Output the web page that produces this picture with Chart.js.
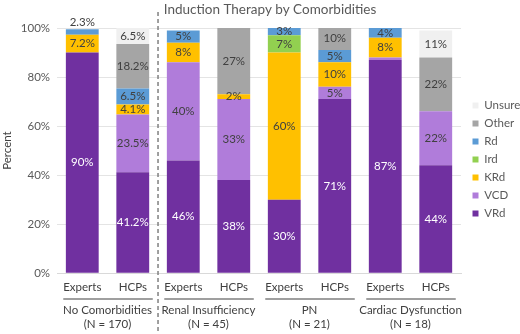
<!DOCTYPE html>
<html>
<head>
<meta charset="utf-8">
<script src="https://cdn.jsdelivr.net/npm/chart.js@4.4.0/dist/chart.umd.min.js"></script>
<style>
  html, body { margin: 0; padding: 0; background: #fff; }
  #wrap { width: 520px; height: 334px; position: relative; }
</style>
</head>
<body>
<div id="wrap"><canvas id="grafica"></canvas></div>
<script>
// categorias
var barras = ['Experts', 'HCPs', 'Experts', 'HCPs', 'Experts', 'HCPs', 'Experts', 'HCPs'];
var grupos = ['No Comorbidities', 'Renal Insufficiency', 'PN', 'Cardiac Dysfunction'];
var grupos_n = ['(N = 170)', '(N = 45)', '(N = 21)', '(N = 18)'];
var titulo = 'Induction Therapy by Comorbidities';
var ticks_y = [0, 20, 40, 60, 80, 100];

// series (%)
var VRd    = [90, 41.2, 46, 38, 30, 71, 87, 44];
var VCD    = [0, 23.5, 40, 33, 0, 5, 1, 22];
var KRd    = [7.2, 4.1, 8, 2, 60, 10, 8, 0];
var Ird    = [0, 0, 0, 0, 7, 0, 0, 0];
var Rd     = [2.3, 6.5, 5, 0, 3, 5, 4, 0];
var Other  = [0, 18.2, 0, 27, 0, 10, 0, 22];
var Unsure = [0, 6.5, 0, 0, 0, 0, 0, 11];

var FONT = 'Lato';
var FS = 11.5;

var chartdata = {
  labels: barras,
  datasets: [
    { label: 'VRd', data: VRd, backgroundColor: '#7030A0' },
    { label: 'VCD', data: VCD, backgroundColor: '#B07CDA' },
    { label: 'KRd', data: KRd, backgroundColor: '#FFC000' },
    { label: 'Ird', data: Ird, backgroundColor: '#92D050' },
    { label: 'Rd', data: Rd, backgroundColor: '#5B9BD5' },
    { label: 'Other', data: Other, backgroundColor: '#A5A5A5' },
    { label: 'Unsure', data: Unsure, backgroundColor: '#F0F0F0' }
  ]
};
chartdata.datasets.forEach(function(ds){
  ds.barPercentage = 0.65;
  ds.categoryPercentage = 1.0;
  ds.borderWidth = 0;
});

// etiquetas, titulo, separador y grupos
var extras = {
  id: 'extras',
  afterLayout: function(chart){
    // mover la leyenda un poco
    chart.legend.left += 5;
    chart.legend.right += 5;
    chart.legend.top -= 5;
    chart.legend.bottom -= 5;
  },
  afterDatasetsDraw: function(chart){
    var ctx = chart.ctx;
    ctx.save();
    ctx.font = FS + 'px ' + FONT;
    ctx.textAlign = 'center';
    ctx.textBaseline = 'middle';
    var n = chart.data.labels.length;
    for (var j = 0; j < n; j++) {
      // ultimo segmento no vacio
      var top = -1;
      chart.data.datasets.forEach(function(ds, i){ if (ds.data[j] > 0) top = i; });
      chart.data.datasets.forEach(function(ds, i){
        var v = ds.data[j];
        if (!(v >= 2)) return;
        var el = chart.getDatasetMeta(i).data[j];
        var h = Math.abs(el.base - el.y);
        var y = (el.y + el.base) / 2;
        if (i === top && h < 6) y = el.y - 7;
        ctx.fillStyle = i === 0 ? '#ffffff' : '#404040';
        ctx.fillText(v + '%', el.x, y);
      });
    }
    ctx.restore();
  },
  afterDraw: function(chart){
    var ctx = chart.ctx;
    var x = chart.scales.x;
    ctx.save();
    // titulo
    ctx.font = '13.5px ' + FONT;
    ctx.fillStyle = '#595959';
    ctx.textAlign = 'center';
    ctx.textBaseline = 'middle';
    ctx.fillText(titulo, 270, 10);
    // linea punteada
    var xs = (x.getPixelForValue(1) + x.getPixelForValue(2)) / 2;
    ctx.strokeStyle = '#808080';
    ctx.lineWidth = 1.5;
    ctx.setLineDash([4, 3]);
    ctx.beginPath();
    ctx.moveTo(xs, 12);
    ctx.lineTo(xs, 334);
    ctx.stroke();
    ctx.setLineDash([]);
    // grupos
    ctx.font = FS + 'px ' + FONT;
    ctx.fillStyle = '#404040';
    for (var g = 0; g < grupos.length; g++) {
      var a = x.getPixelForValue(g * 2);
      var b = x.getPixelForValue(g * 2 + 1);
      ctx.strokeStyle = '#7f7f7f';
      ctx.lineWidth = 1.5;
      ctx.beginPath();
      ctx.moveTo(a - 19, 299);
      ctx.lineTo(b + 20, 299);
      ctx.stroke();
      ctx.fillText(grupos[g], (a + b) / 2, 310);
      ctx.fillText(grupos_n[g], (a + b) / 2, 324);
    }
    ctx.restore();
  }
};

var ctx = document.getElementById('grafica');
var barGraph = new Chart(ctx, {
  type: 'bar',
  data: chartdata,
  plugins: [extras],
  options: {
    responsive: true,
    maintainAspectRatio: false,
    animation: false,
    layout: { padding: { top: 28, bottom: 33, left: 0, right: 0 } },
    plugins: {
      title: { display: false },
      tooltip: { enabled: false },
      legend: {
        position: 'right',
        reverse: true,
        maxWidth: 59,
        labels: {
          boxWidth: 6, boxHeight: 6, padding: 6.5,
          color: '#595959',
          font: { family: FONT, size: FS }
        }
      }
    },
    scales: {
      x: {
        stacked: true,
        grid: { display: false, drawTicks: false },
        border: { color: '#d9d9d9' },
        ticks: { color: '#404040', padding: 7, font: { family: FONT, size: FS } }
      },
      y: {
        stacked: true,
        min: 0, max: 100,
        afterBuildTicks: function(axis){ axis.ticks = ticks_y.map(function(v){ return { value: v }; }); },
        grid: { color: '#e4e4e4', drawTicks: false },
        border: { display: false },
        ticks: {
          color: '#595959', padding: 7,
          font: { family: FONT, size: FS },
          callback: function(v){ return v + '%'; }
        },
        title: { display: true, text: 'Percent', color: '#404040', font: { family: FONT, size: FS }, padding: { top: 0, bottom: 0 } }
      }
    }
  }
});
</script>
</body>
</html>
